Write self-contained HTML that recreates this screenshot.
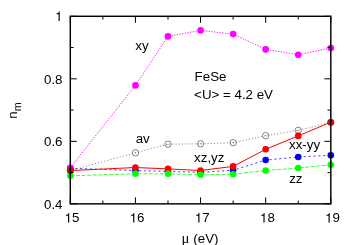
<!DOCTYPE html><html><head><meta charset="utf-8"><style>html,body{margin:0;padding:0;background:#fff}</style></head><body><svg width="354" height="245" viewBox="0 0 354 245" style="display:block;font-family:'Liberation Sans',sans-serif;font-size:13.33px">
<rect width="354" height="245" fill="#fff"/>
<polyline points="70.30,168.20 135.43,170.60 167.99,171.40 200.55,172.40 233.11,170.20 265.68,160.00 298.24,157.00 330.80,155.30" fill="none" stroke="#0000ff" stroke-width="0.75" stroke-dasharray="2.1,2.8"/>
<circle cx="70.30" cy="168.20" r="3.3" fill="#0000ff"/><circle cx="135.43" cy="170.60" r="3.3" fill="#0000ff"/><circle cx="167.99" cy="171.40" r="3.3" fill="#0000ff"/><circle cx="200.55" cy="172.40" r="3.3" fill="#0000ff"/><circle cx="233.11" cy="170.20" r="3.3" fill="#0000ff"/><circle cx="265.68" cy="160.00" r="3.3" fill="#0000ff"/><circle cx="298.24" cy="157.00" r="3.3" fill="#0000ff"/><circle cx="330.80" cy="155.30" r="3.3" fill="#0000ff"/>
<polyline points="70.30,167.70 135.43,85.40 167.99,36.40 200.55,30.40 233.11,34.10 265.68,49.40 298.24,54.70 330.80,48.00" fill="none" stroke="#ff00ff" stroke-width="0.9" stroke-dasharray="1.3,1.4"/>
<circle cx="70.30" cy="167.70" r="3.3" fill="#ff00ff"/><circle cx="135.43" cy="85.40" r="3.3" fill="#ff00ff"/><circle cx="167.99" cy="36.40" r="3.3" fill="#ff00ff"/><circle cx="200.55" cy="30.40" r="3.3" fill="#ff00ff"/><circle cx="233.11" cy="34.10" r="3.3" fill="#ff00ff"/><circle cx="265.68" cy="49.40" r="3.3" fill="#ff00ff"/><circle cx="298.24" cy="54.70" r="3.3" fill="#ff00ff"/><circle cx="330.80" cy="48.00" r="3.3" fill="#ff00ff"/>
<polyline points="70.30,170.60 135.43,167.50 167.99,168.90 200.55,170.50 233.11,166.40 265.68,149.30 298.24,135.90 330.80,122.20" fill="none" stroke="#ff0000" stroke-width="1"/>
<circle cx="70.30" cy="170.60" r="3.3" fill="#ff0000"/><circle cx="135.43" cy="167.50" r="3.3" fill="#ff0000"/><circle cx="167.99" cy="168.90" r="3.3" fill="#ff0000"/><circle cx="200.55" cy="170.50" r="3.3" fill="#ff0000"/><circle cx="233.11" cy="166.40" r="3.3" fill="#ff0000"/><circle cx="265.68" cy="149.30" r="3.3" fill="#ff0000"/><circle cx="298.24" cy="135.90" r="3.3" fill="#ff0000"/><circle cx="330.80" cy="122.20" r="3.3" fill="#ff0000"/>
<polyline points="70.30,175.80 135.43,173.80 167.99,173.80 200.55,174.80 233.11,174.30 265.68,170.50 298.24,168.00 330.80,164.80" fill="none" stroke="#00ff00" stroke-width="0.75" stroke-dasharray="4.1,1.5"/>
<circle cx="70.30" cy="175.80" r="3.3" fill="#00ff00"/><circle cx="135.43" cy="173.80" r="3.3" fill="#00ff00"/><circle cx="167.99" cy="173.80" r="3.3" fill="#00ff00"/><circle cx="200.55" cy="174.80" r="3.3" fill="#00ff00"/><circle cx="233.11" cy="174.30" r="3.3" fill="#00ff00"/><circle cx="265.68" cy="170.50" r="3.3" fill="#00ff00"/><circle cx="298.24" cy="168.00" r="3.3" fill="#00ff00"/><circle cx="330.80" cy="164.80" r="3.3" fill="#00ff00"/>
<polyline points="70.30,170.50 135.43,152.80 167.99,144.20 200.55,143.80 233.11,142.70 265.68,135.70 298.24,130.30 330.80,122.40" fill="none" stroke="#444" stroke-width="0.7" stroke-dasharray="1,2.2"/>
<circle cx="70.30" cy="170.50" r="3.2" fill="none" stroke="#333" stroke-width="0.6"/><path d="M69.50,170.50h1.6" stroke="#444" stroke-width="0.55"/><circle cx="135.43" cy="152.80" r="3.2" fill="none" stroke="#333" stroke-width="0.6"/><path d="M134.62,152.80h1.6" stroke="#444" stroke-width="0.55"/><circle cx="167.99" cy="144.20" r="3.2" fill="none" stroke="#333" stroke-width="0.6"/><path d="M167.19,144.20h1.6" stroke="#444" stroke-width="0.55"/><circle cx="200.55" cy="143.80" r="3.2" fill="none" stroke="#333" stroke-width="0.6"/><path d="M199.75,143.80h1.6" stroke="#444" stroke-width="0.55"/><circle cx="233.11" cy="142.70" r="3.2" fill="none" stroke="#333" stroke-width="0.6"/><path d="M232.31,142.70h1.6" stroke="#444" stroke-width="0.55"/><circle cx="265.68" cy="135.70" r="3.2" fill="none" stroke="#333" stroke-width="0.6"/><path d="M264.88,135.70h1.6" stroke="#444" stroke-width="0.55"/><circle cx="298.24" cy="130.30" r="3.2" fill="none" stroke="#333" stroke-width="0.6"/><path d="M297.44,130.30h1.6" stroke="#444" stroke-width="0.55"/><circle cx="330.80" cy="122.40" r="3.2" fill="none" stroke="#333" stroke-width="0.6"/><path d="M330.00,122.40h1.6" stroke="#444" stroke-width="0.55"/>
<rect x="70.3" y="16.3" width="260.5" height="187.54999999999998" fill="none" stroke="#000" stroke-width="1.45"/>
<path d="M70.30,203.85v-6.5M70.30,16.3v6.5M102.86,203.85v-3.3M102.86,16.3v3.3M135.43,203.85v-6.5M135.43,16.3v6.5M167.99,203.85v-3.3M167.99,16.3v3.3M200.55,203.85v-6.5M200.55,16.3v6.5M233.11,203.85v-3.3M233.11,16.3v3.3M265.68,203.85v-6.5M265.68,16.3v6.5M298.24,203.85v-3.3M298.24,16.3v3.3M330.80,203.85v-6.5M330.80,16.3v6.5M70.3,203.85h6.5M330.8,203.85h-6.5M70.3,172.59h3.3M330.8,172.59h-3.3M70.3,141.33h6.5M330.8,141.33h-6.5M70.3,110.08h3.3M330.8,110.08h-3.3M70.3,78.82h6.5M330.8,78.82h-6.5M70.3,47.56h3.3M330.8,47.56h-3.3M70.3,16.30h6.5M330.8,16.30h-6.5" stroke="#000" stroke-width="1" fill="none"/>
<g style="mix-blend-mode:multiply">
<path transform="translate(64.59,222.40) scale(0.01333,-0.01333)" d="M259 505L259 0L347 0L347 709L289 709C258 600 238 585 102 568L102 505Z" fill="#000"/>
<text x="72.00" y="222.4">5</text>
<path transform="translate(129.71,222.40) scale(0.01333,-0.01333)" d="M259 505L259 0L347 0L347 709L289 709C258 600 238 585 102 568L102 505Z" fill="#000"/>
<text x="137.12" y="222.4">6</text>
<path transform="translate(194.84,222.40) scale(0.01333,-0.01333)" d="M259 505L259 0L347 0L347 709L289 709C258 600 238 585 102 568L102 505Z" fill="#000"/>
<text x="202.25" y="222.4">7</text>
<path transform="translate(259.96,222.40) scale(0.01333,-0.01333)" d="M259 505L259 0L347 0L347 709L289 709C258 600 238 585 102 568L102 505Z" fill="#000"/>
<text x="267.38" y="222.4">8</text>
<path transform="translate(325.09,222.40) scale(0.01333,-0.01333)" d="M259 505L259 0L347 0L347 709L289 709C258 600 238 585 102 568L102 505Z" fill="#000"/>
<text x="332.50" y="222.4">9</text>
<text x="62.5" y="208.55" text-anchor="end">0.4</text>
<text x="62.5" y="146.03" text-anchor="end">0.6</text>
<text x="62.5" y="83.52" text-anchor="end">0.8</text>
<path transform="translate(55.09,21.00) scale(0.01333,-0.01333)" d="M259 505L259 0L347 0L347 709L289 709C258 600 238 585 102 568L102 505Z" fill="#000"/>
<text x="135.3" y="50.3">xy</text>
<text x="194.6" y="80.5">FeSe</text>
<text x="194.1" y="98.5">&lt;U&gt; = 4.2 eV</text>
<text x="135.7" y="142.6">av</text>
<text x="194.1" y="162.2">xz,yz</text>
<text x="289" y="149">xx-yy</text>
<text x="289.2" y="183">zz</text>
<text x="181.5" y="242.6" font-family="'Liberation Serif',serif" font-size="14.8px">μ</text><text x="193.3" y="242.7">(eV)</text>
<text transform="translate(17.3,118.7) rotate(-90)">n<tspan font-size="10.67px" dy="4">m</tspan></text>
</g>
</svg></body></html>
